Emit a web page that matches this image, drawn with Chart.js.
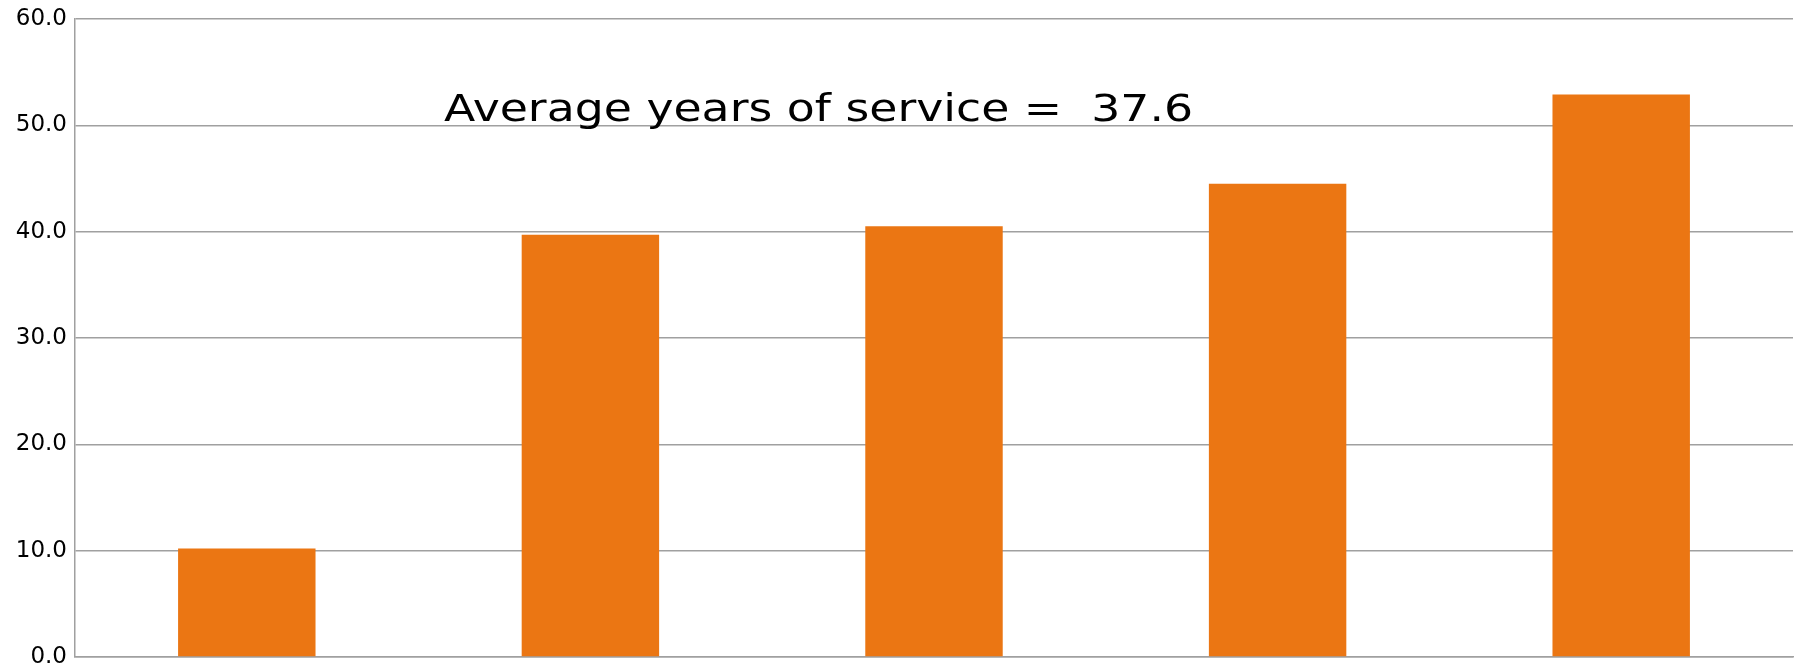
<!DOCTYPE html>
<html lang="en">
<head>
  <meta charset="UTF-8">
  <title>Average years of service</title>
  <script src="https://cdn.jsdelivr.net/npm/chart.js"></script>
  <style>
    html, body { margin: 0; padding: 0; background: #fff; }
    #serviceChart { display: block; }
  </style>
</head>
<body>
  <canvas id="serviceChart" width="1794" height="670"></canvas>

  <script>
// values
const groups = ["Group 1", "Group 2", "Group 3", "Group 4", "Group 5"];
const yearsOfService = [10.2, 39.7, 40.5, 44.5, 52.9];
const yTicks = [0, 10, 20, 30, 40, 50, 60];
const note = "Average years of service =  37.6";

const barColor = "#EB7613";
const gridColor = "#a0a0a0";
const fontFamily = "'DejaVu Sans', sans-serif";

// text box inside the plot, stretched a little to the width of the original font
const notePlugin = {
  id: "note",
  afterDatasetsDraw(chart) {
    const { ctx, chartArea, scales } = chart;
    ctx.save();
    ctx.font = "37px " + fontFamily;
    ctx.fillStyle = "#000";
    ctx.textAlign = "left";
    ctx.textBaseline = "alphabetic";
    const x = chartArea.left + chartArea.width * 0.2148;
    const y = scales.y.getPixelForValue(50.4);
    const wanted = chartArea.width * 0.436;
    const sx = wanted / ctx.measureText(note).width;
    ctx.translate(x, y);
    ctx.scale(sx, 1);
    ctx.fillText(note, 0, 0);
    ctx.restore();
  }
};

const ctx = document.getElementById("serviceChart").getContext("2d");
new Chart(ctx, {
  type: "bar",
  data: {
    labels: groups,
    datasets: [{
      data: yearsOfService,
      backgroundColor: barColor,
      borderWidth: 0,
      categoryPercentage: 1.0,
      barPercentage: 0.4
    }]
  },
  options: {
    responsive: false,
    animation: false,
    devicePixelRatio: 1,
    layout: { padding: { top: 19, right: 1, bottom: 13, left: 0 } },
    plugins: {
      legend: { display: false },
      tooltip: { enabled: false }
    },
    scales: {
      x: {
        grid: { display: false },
        border: { display: true, color: gridColor, width: 1.5 },
        ticks: { display: false },
        afterFit(scale) {
          scale.height = 0;
        }
      },
      y: {
        min: 0,
        max: 60,
        afterBuildTicks(scale) {
          scale.ticks = yTicks.map(v => ({ value: v }));
        },
        afterFit(scale) {
          scale.width = 75;
          scale.paddingTop = 0;
          scale.paddingBottom = 0;
        },
        grid: { color: gridColor, lineWidth: 1.5, drawTicks: false },
        border: { display: true, color: gridColor, width: 1.5 },
        ticks: {
          color: "#000",
          padding: 8,
          font: { family: fontFamily, size: 23 },
          callback: v => v.toFixed(1)
        }
      }
    }
  },
  plugins: [notePlugin]
});
  </script>
</body>
</html>
